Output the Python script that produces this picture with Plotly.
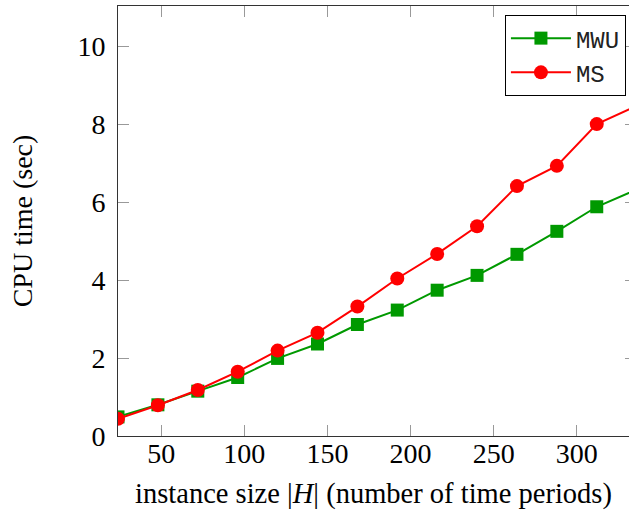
import plotly.graph_objects as go

sizes = [24, 48, 72, 96, 120, 144, 168, 192, 216, 240, 264, 288, 312, 336]
mwu = [0.49, 0.80, 1.15, 1.50, 1.99, 2.36, 2.86, 3.23, 3.74, 4.12, 4.66, 5.25, 5.88, 6.32]
ms = [0.44, 0.79, 1.18, 1.65, 2.19, 2.65, 3.32, 4.04, 4.67, 5.38, 6.41, 6.93, 8.00, 8.47]
x_ticks = [50, 100, 150, 200, 250, 300]
y_ticks = [0, 2, 4, 6, 8, 10]

GREEN = "#009900"
RED = "#ff0000"
SERIF = "Liberation Serif"

fig = go.Figure()
fig.add_trace(go.Scatter(
    x=sizes, y=mwu, name="MWU", mode="lines+markers",
    line=dict(color=GREEN, width=2),
    marker=dict(symbol="square", size=13, color=GREEN),
))
fig.add_trace(go.Scatter(
    x=sizes, y=ms, name="MS", mode="lines+markers",
    line=dict(color=RED, width=2),
    marker=dict(symbol="circle", size=14, color=RED),
))
# invisible trace to carry a right-side tick axis
fig.add_trace(go.Scatter(x=[sizes[0]], y=[0], yaxis="y2", showlegend=False,
                         mode="markers", marker=dict(opacity=0), hoverinfo="skip"))

fig.update_layout(
    width=629, height=520,
    margin=dict(l=118, r=0, t=6, b=84),
    paper_bgcolor="white", plot_bgcolor="white",
    font=dict(family=SERIF, size=27, color="black"),
    xaxis=dict(
        range=[24, 331.4], tickvals=x_ticks, ticks="inside", ticklen=11,
        tickcolor="#999999", tickwidth=1, showline=True, linecolor="#333333",
        linewidth=1, mirror="ticks", showgrid=False, zeroline=False,
        ticklabelstandoff=-8, tickfont=dict(family=SERIF, size=28),
        title=dict(text="instance size |<i>H</i>| (number of time periods)",
                   font=dict(family=SERIF, size=28.5), standoff=15),
    ),
    yaxis=dict(
        range=[0, 11.03], tickvals=y_ticks, ticks="inside", ticklen=11,
        tickcolor="#999999", tickwidth=1, showline=True, linecolor="#333333",
        linewidth=1, showgrid=False, zeroline=False,
        ticklabelstandoff=6, tickfont=dict(family=SERIF, size=28),
        title=dict(text="CPU time (sec)", font=dict(family=SERIF, size=28),
                   standoff=36),
    ),
    yaxis2=dict(
        range=[0, 11.03], tickvals=y_ticks, overlaying="y", side="right",
        ticks="inside", ticklen=4, tickcolor="#999999", showticklabels=False,
        showline=False, showgrid=False, zeroline=False,
    ),
    legend=dict(
        x=0.994, y=0.979, xanchor="right", yanchor="top",
        bordercolor="black", borderwidth=1, bgcolor="white",
        font=dict(family="Liberation Mono", size=24, color="#222222"),
        tracegroupgap=0, itemwidth=60,
    ),
    showlegend=True,
)

fig.write_html("out.html", config={"displayModeBar": False},
               post_script="document.body.style.margin='0';")
